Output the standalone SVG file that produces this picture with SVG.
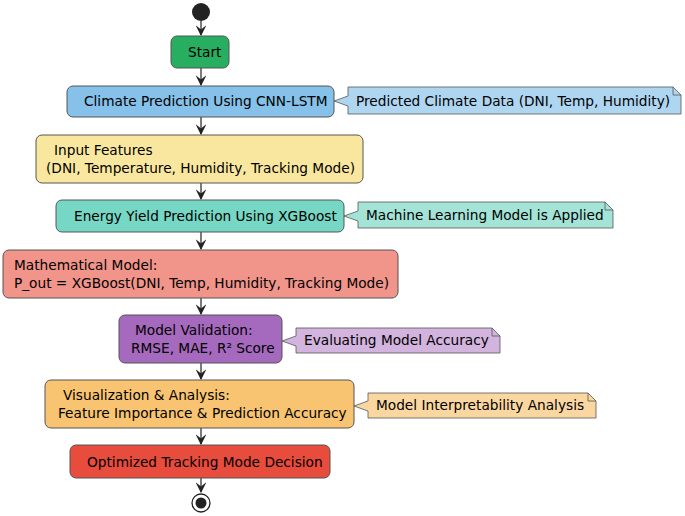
<svg xmlns="http://www.w3.org/2000/svg" width="685" height="516" viewBox="0 0 685 516">
<style>
text{font-family:"DejaVu Sans",sans-serif;font-size:13.7px;fill:#000}
.b{stroke:#555;stroke-width:1}
.n{stroke:#555;stroke-width:0.8}
.c{stroke:#222;stroke-width:1.2;fill:none}
</style>
<defs><marker id="a" viewBox="0 0 10 10" refX="9" refY="5" markerWidth="9" markerHeight="9" orient="auto"><path d="M0,0 L10,5 L0,10 L4,5 Z" fill="#222"/></marker></defs>
<g id="connectors">
<path class="c" d="M201,21 V35" marker-end="url(#a)"/>
<path class="c" d="M201,68 V85" marker-end="url(#a)"/>
<path class="c" d="M201,117 V134" marker-end="url(#a)"/>
<path class="c" d="M201,183 V199" marker-end="url(#a)"/>
<path class="c" d="M201,232 V249" marker-end="url(#a)"/>
<path class="c" d="M201,298 V314" marker-end="url(#a)"/>
<path class="c" d="M201,363 V379" marker-end="url(#a)"/>
<path class="c" d="M201,428 V444" marker-end="url(#a)"/>
<path class="c" d="M201,478 V492" marker-end="url(#a)"/>
</g>
<g id="start"><circle cx="201" cy="12" r="9" fill="#222"/></g>
<g id="n1"><rect class="b" x="171" y="36" width="58" height="32" rx="6" fill="#27ae60"/><text x="188" y="57">Start</text></g>
<g id="n2"><rect class="b" x="67" y="86" width="267" height="31" rx="6" fill="#85c1e9"/><text x="84" y="106">Climate Prediction Using CNN-LSTM</text></g>
<g id="note2"><path class="n" d="M348,87 H673 L681,95 V114 H348 V106 L334,101 L348,96 Z" fill="#aed6f1"/><path class="n" d="M673,87 V95 H681" fill="none"/><text x="356" y="106">Predicted Climate Data (DNI, Temp, Humidity)</text></g>
<g id="n3"><rect class="b" x="36" y="135" width="327" height="48" rx="6" fill="#f9e79f"/><text x="54" y="155">Input Features</text><text x="46" y="173">(DNI, Temperature, Humidity, Tracking Mode)</text></g>
<g id="n4"><rect class="b" x="56" y="200" width="288" height="32" rx="6" fill="#76d7c4"/><text x="74" y="221">Energy Yield Prediction Using XGBoost</text></g>
<g id="note4"><path class="n" d="M358,202 H605 L613,210 V228 H358 V221 L344,216 L358,211 Z" fill="#a3e4d7"/><path class="n" d="M605,202 V210 H613" fill="none"/><text x="366" y="220">Machine Learning Model is Applied</text></g>
<g id="n5"><rect class="b" x="3" y="250" width="395" height="48" rx="6" fill="#f1948a"/><text x="14" y="270">Mathematical Model:</text><text x="14" y="288">P_out = XGBoost(DNI, Temp, Humidity, Tracking Mode)</text></g>
<g id="n6"><rect class="b" x="119" y="315" width="163" height="48" rx="6" fill="#a569bd"/><text x="135" y="335">Model Validation:</text><text x="131" y="353">RMSE, MAE, R² Score</text></g>
<g id="note6"><path class="n" d="M296,328 H492 L500,336 V353 H296 V346 L282,341 L296,336 Z" fill="#d2b4de"/><path class="n" d="M492,328 V336 H500" fill="none"/><text x="304" y="345">Evaluating Model Accuracy</text></g>
<g id="n7"><rect class="b" x="45" y="380" width="309" height="48" rx="6" fill="#f8c471"/><text x="63" y="400">Visualization &amp; Analysis:</text><text x="58" y="418">Feature Importance &amp; Prediction Accuracy</text></g>
<g id="note7"><path class="n" d="M368,393 H588 L596,401 V418 H368 V411 L354,406 L368,401 Z" fill="#fad7a0"/><path class="n" d="M588,393 V401 H596" fill="none"/><text x="376" y="410">Model Interpretability Analysis</text></g>
<g id="n8"><rect class="b" x="70" y="445" width="260" height="33" rx="6" fill="#e74c3c"/><text x="87" y="467">Optimized Tracking Mode Decision</text></g>
<g id="end"><circle cx="201" cy="503" r="9" fill="#fff" stroke="#222" stroke-width="1.3"/><circle cx="201" cy="503" r="5.5" fill="#222"/></g>
</svg>
